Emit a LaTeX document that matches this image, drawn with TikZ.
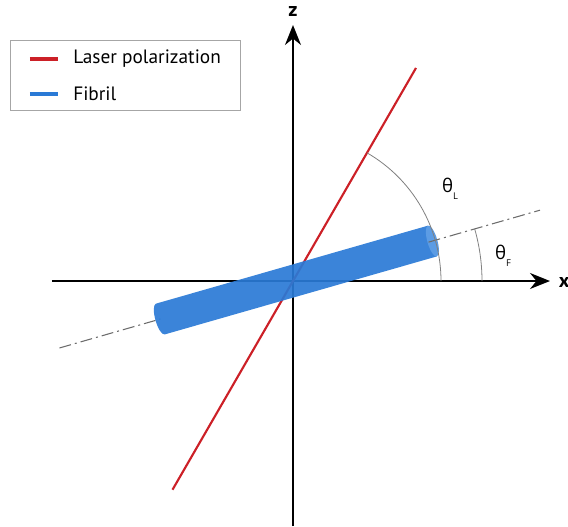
\documentclass[tikz,border=0pt]{standalone}
\usepackage{fontspec}
\setmainfont{PT Sans}
\newfontfamily\greekfont{Open Sans}
\usetikzlibrary{arrows.meta}
\definecolor{laserred}{RGB}{204,32,39}
\definecolor{fibblue}{RGB}{42,122,214}
\definecolor{fibcap}{RGB}{92,156,228}
\tikzset{
  axisline/.style={line width=1.5pt,-{Stealth[length=15pt,width=12pt]}},
  laserline/.style={draw=laserred,line width=1.6pt},
  fibbody/.style={fill=fibblue,opacity=.92},
  fibend/.style={fill=fibcap},
  dashaxis/.style={gray!85!black,line width=.8pt,dash pattern=on 9pt off 3pt on 1.5pt off 3pt},
  anglearc/.style={gray,line width=.6pt},
  anglelab/.style={font=\greekfont\fontsize{14}{16}\selectfont},
  axislab/.style={font=\fontsize{15}{17}\selectfont\bfseries},
  legbox/.style={draw=gray!70,line width=.6pt},
  legtext/.style={anchor=west,font=\fontsize{14.5}{16}\selectfont,inner sep=0pt}
}
\begin{document}
\begin{tikzpicture}[x=0.75pt,y=0.75pt]
  \useasboundingbox (-293,-245) rectangle (275,281);
  % axes
  \draw[axisline] (-241,0) -- (257,0);
  \draw[axisline] (0,-245) -- (0,256);
  \node[axislab] (zlab) at (0,270) {z};
  \node[axislab] (xlab) at (271,-1) {x};

  % laser polarization
  \draw[laserline] (240:241) -- (60:246);

  % fibril, tilted by theta_F
  \begin{scope}[rotate=16]
    \draw[dashaxis] (-243,0) -- (-138,0);
    \fill[fibbody] (-138,16) -- (145,16) -- (145,-16) -- (-138,-16)
      arc[start angle=270,end angle=90,x radius=5,y radius=16] -- cycle;
    \fill[fibend] (145,0) ellipse[x radius=5,y radius=16];
    \draw[dashaxis] (141,0) -- (257,0);
  \end{scope}

  % angles
  \draw[anglearc] (148,0) arc[start angle=0,end angle=60,radius=148];
  \draw[anglearc] (189,0) arc[start angle=0,end angle=16,radius=189];
  \node[anglelab] (thL) at (157,92) {θ\raisebox{-.7ex}{\fontsize{7}{8}\selectfont L}};
  \node[anglelab] (thF) at (210,25) {θ\raisebox{-.7ex}{\fontsize{7}{8}\selectfont F}};

  % legend
  \draw[legbox] (-283,171) rectangle (-53,241);
  \draw[laserred,line width=3pt] (-263,222) -- (-235,222);
  \draw[fibblue,line width=3pt] (-263,187) -- (-235,187);
  \node[legtext] (leglaser) at (-220,222) {Laser polarization};
  \node[legtext] (legfib) at (-220,187) {Fibril};
\end{tikzpicture}
\end{document}
